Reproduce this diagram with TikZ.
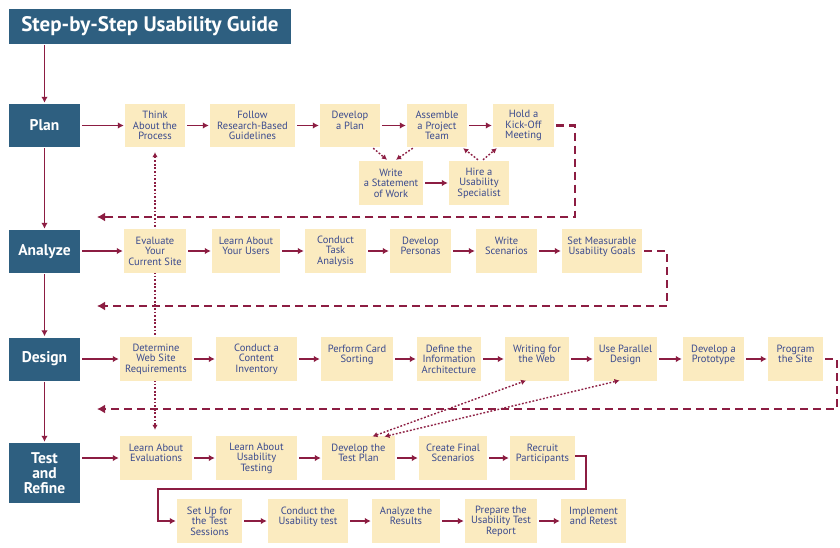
\documentclass[tikz,border=0pt]{standalone}
\usepackage{fontspec}
\setmainfont{PT Sans}
\usetikzlibrary{arrows.meta,backgrounds}
\definecolor{dark}{HTML}{2E5F80}
\definecolor{mar}{HTML}{8C1D42}
\definecolor{pale}{HTML}{FBEBC0}
\definecolor{ink}{HTML}{3A4A8E}
\begin{document}
\begin{tikzpicture}[x=1pt,y=-1pt,
 stepbox/.style={fill=pale, text=ink, align=center, inner sep=0pt, font=\fontsize{10.5}{10.5}\selectfont, minimum height=44pt},
 phase/.style={fill=dark, text=white, align=center, inner sep=0pt, font=\bfseries\fontsize{15.5}{15}\selectfont, minimum width=71pt, minimum height=43pt},
 arr/.style={draw=mar, line width=1.8pt, -{Latex[length=6pt,width=6.5pt]}, shorten >=1pt, shorten <=2pt},
 dashloop/.style={draw=mar, line width=2.5pt, dash pattern=on 8pt off 5pt, -{Latex[length=8pt,width=9pt]}},
 dotline/.style={draw=mar, line width=1.4pt, dash pattern=on 1.8pt off 1.8pt},
 tip/.tip={Latex[length=5pt,width=5.5pt]},
]
\useasboundingbox (0,0) rectangle (840,548);

% phases
\node[phase, minimum width=282pt, minimum height=35pt, font=\bfseries\fontsize{21}{21}\selectfont] (title) at (150,26.5) {Step-by-Step Usability Guide};
\node[phase] (plan) at (44.5,125.5) {Plan};
\node[phase] (analyze) at (44.5,251.5) {Analyze};
\node[phase] (design) at (44.5,359) {Design};
\node[phase, minimum height=60pt] (test) at (44.5,473) {Test\\and\\Refine};

% Plan row
\node[stepbox, minimum width=60pt, minimum height=43pt] (think) at (155,125.5) {Think\\About the\\Process};
\node[stepbox, minimum width=85pt, minimum height=43pt] (follow) at (252.5,125.5) {Follow\\Research-Based\\Guidelines};
\node[stepbox, minimum width=60pt, minimum height=43pt] (devplan) at (350,125.5) {Develop\\a Plan\\~};
\node[stepbox, minimum width=60pt, minimum height=43pt] (assemble) at (437,125.5) {Assemble\\a Project\\Team};
\node[stepbox, minimum width=61pt, minimum height=43pt] (kickoff) at (523.5,125.5) {Hold a\\Kick-Off\\Meeting};
\node[stepbox, minimum width=64pt] (sow) at (391,183) {Write\\a Statement\\of Work};
\node[stepbox, minimum width=60pt] (hire) at (479,183) {Hire a\\Usability\\Specialist};

% Analyze row
\node[stepbox, minimum width=62pt] (evaluate) at (155,251) {Evaluate\\Your\\Current Site};
\node[stepbox, minimum width=68pt] (users) at (246,251) {Learn About\\Your Users\\~};
\node[stepbox, minimum width=61pt] (task) at (335.5,251) {Conduct\\Task\\Analysis};
\node[stepbox, minimum width=61pt] (personas) at (420.5,251) {Develop\\Personas\\~};
\node[stepbox, minimum width=61pt] (scenarios) at (506.5,251) {Write\\Scenarios\\~};
\node[stepbox, minimum width=80pt] (goals) at (602,251) {Set Measurable\\Usability Goals\\~};

% Design row
\node[stepbox, minimum width=72pt] (require) at (156,359) {Determine\\Web Site\\Requirements};
\node[stepbox, minimum width=81pt] (inventory) at (256.5,359) {Conduct a\\Content\\Inventory};
\node[stepbox, minimum width=72pt] (cardsort) at (357,359) {Perform Card\\Sorting\\~};
\node[stepbox, minimum width=64pt] (ia) at (449,359) {Define the\\Information\\Architecture};
\node[stepbox, minimum width=64pt] (writing) at (537,359) {Writing for\\the Web\\~};
\node[stepbox, minimum width=63pt] (parallel) at (625.5,359) {Use Parallel\\Design\\~};
\node[stepbox, minimum width=61pt] (prototype) at (713.5,359) {Develop a\\Prototype\\~};
\node[stepbox, minimum width=55pt] (program) at (795.5,359) {Program\\the Site\\~};

% Test row
\node[stepbox, minimum width=72pt] (learneval) at (156,458) {Learn About\\Evaluations\\~};
\node[stepbox, minimum width=81pt] (learntest) at (256.5,458) {Learn About\\Usability\\Testing};
\node[stepbox, minimum width=73pt] (testplan) at (358.5,458) {Develop the\\Test Plan\\~};
\node[stepbox, minimum width=68pt] (finalscen) at (453,458) {Create Final\\Scenarios\\~};
\node[stepbox, minimum width=65pt] (recruit) at (542.5,458) {Recruit\\Participants\\~};

% Bottom row
\node[stepbox, minimum width=65pt] (setup) at (209.5,521) {Set Up for\\the Test\\Sessions};
\node[stepbox, minimum width=80pt] (conduct) at (308,521) {Conduct the\\Usability test\\~};
\node[stepbox, minimum width=68pt] (results) at (406,521) {Analyze the\\Results\\~};
\node[stepbox, minimum width=72pt] (report) at (501,521) {Prepare the\\Usability Test\\Report};
\node[stepbox, minimum width=65pt] (implement) at (593.5,521) {Implement\\and Retest\\~};

% background: white and the long dotted link
\begin{scope}[on background layer]
\fill[white] (0,0) rectangle (840,548);
\draw[dotline, tip-tip, shorten <=5pt, shorten >=6pt] (think.south) -- (think.south |- learneval.north);
\end{scope}

% phase arrows
\draw[arr, shorten <=1pt] (plan.north |- title.south) -- (plan.north);
\draw[arr, shorten <=1pt] (plan.south) -- (analyze.north);
\draw[arr, shorten <=1pt] (analyze.south) -- (design.north);
\draw[arr, shorten <=1pt] (design.south) -- (test.north);
\draw[arr] (plan.east) -- (think.west);
\draw[arr] (analyze.east |- evaluate.west) -- (evaluate.west);
\draw[arr] (design.east) -- (require.west);
\draw[arr] (test.east |- learneval.west) -- (learneval.west);

% plan row
\draw[arr] (think) -- (follow);
\draw[arr] (follow) -- (devplan);
\draw[arr] (devplan) -- (assemble);
\draw[arr] (assemble) -- (kickoff);
\draw[arr] (sow) -- (hire);
\draw[dotline, -tip] ([xshift=-7pt,yshift=-1pt]devplan.south east) -- ([xshift=-4pt,yshift=1pt]sow.north);
\draw[dotline, -tip] ([xshift=6pt,yshift=-1pt]assemble.south west) -- ([xshift=5pt,yshift=1pt]sow.north);
\draw[dotline, -tip] ([xshift=-1pt,yshift=1pt]hire.north) -- ([xshift=-4pt,yshift=-1pt]assemble.south east);
\draw[dotline, -tip] ([xshift=4pt,yshift=1pt]hire.north) -- ([xshift=4pt,yshift=-1pt]kickoff.south west);

% analyze row
\draw[arr] (evaluate) -- (users);
\draw[arr] (users) -- (task);
\draw[arr] (task) -- (personas);
\draw[arr] (personas) -- (scenarios);
\draw[arr] (scenarios) -- (goals);

% design row
\draw[arr] (require) -- (inventory);
\draw[arr] (inventory) -- (cardsort);
\draw[arr] (cardsort) -- (ia);
\draw[arr] (ia) -- (writing);
\draw[arr] (writing) -- (parallel);
\draw[arr] (parallel) -- (prototype);
\draw[arr] (prototype) -- (program);

% test row
\draw[arr] (learneval) -- (learntest);
\draw[arr] (learntest) -- (testplan);
\draw[arr] (testplan) -- (finalscen);
\draw[arr] (finalscen) -- (recruit);

% bottom row
\draw[arr] (setup) -- (conduct);
\draw[arr] (conduct) -- (results);
\draw[arr] (results) -- (report);
\draw[arr] (report) -- (implement);

% dashed loops back
\coordinate (l1) at (575,217);
\coordinate (l1e) at (97,217);
\coordinate (l2) at (667,306);
\coordinate (l2e) at (97,306);
\coordinate (l3) at (837,409);
\coordinate (l3e) at (97,409);
\draw[dashloop] ([xshift=2pt]kickoff.east) -| (l1) -- (l1e);
\draw[dashloop] ([xshift=2pt]goals.east) -| (l2) -- (l2e);
\draw[dashloop] ([xshift=2pt]program.east) -| (l3) -- (l3e);

% recruit to set-up
\coordinate (r1) at (586,489);
\coordinate (r2) at (158,489);
\draw[arr, shorten <=0pt] ([yshift=2pt]recruit.east) -| (r1) -- (r2) |- (setup.west);

% dotted links from the test plan
\draw[dotline, tip-tip, shorten <=1pt, shorten >=1pt] ([xshift=13pt,yshift=-1pt]testplan.north) -- ([xshift=-10pt,yshift=1pt]writing.south);
\draw[dotline, tip-tip, shorten <=1pt, shorten >=1pt] ([xshift=25pt,yshift=-1pt]testplan.north) -- ([xshift=-5pt,yshift=1pt]parallel.south);
\end{tikzpicture}
\end{document}
